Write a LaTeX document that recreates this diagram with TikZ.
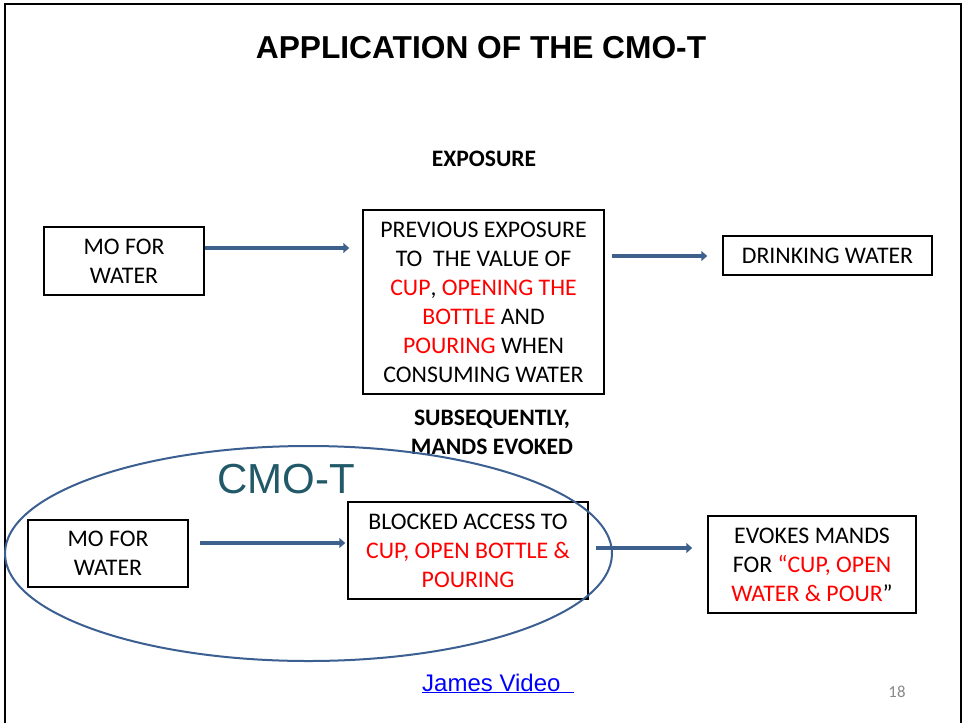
\documentclass[tikz,border=0pt]{standalone}
\usepackage{fontspec}
\setmainfont{Carlito}
\newfontfamily\arialfont{Liberation Sans}
\usetikzlibrary{arrows.meta,calc}
\definecolor{arrblue}{RGB}{62,96,140}
\definecolor{ellblue}{RGB}{60,95,145}
\definecolor{cmoteal}{RGB}{33,89,104}
\definecolor{numgray}{RGB}{137,137,137}
\newcommand{\rd}[1]{\textcolor{red}{#1}}
\begin{document}
\begin{tikzpicture}[x=1pt,y=-1pt,
  box/.style={draw=black, line width=1.5pt, inner sep=0pt, align=center, font=\fontsize{23.8}{29}\selectfont},
  lbl/.style={font=\bfseries\fontsize{23.6}{29}\selectfont, align=center},
  arr/.style={draw=arrblue, line width=3.5pt, -{Triangle[length=6pt,width=10pt]}},
]
\useasboundingbox (0,0) rectangle (963,723);
\fill[white] (0,0) rectangle (963,723);
\draw[line width=2.5pt] (5,723) -- (5,4) -- (961,4) -- (961,723);

\node[font=\arialfont\bfseries\fontsize{31.7}{36}\selectfont, anchor=base] (title) at (481,58) {APPLICATION OF THE CMO-T};

\node[lbl, anchor=base] (expo) at (484,166) {EXPOSURE};
\node[lbl] (subs) at (492,432.5) {SUBSEQUENTLY,\\MANDS EVOKED};

\node[box, minimum width=160, minimum height=68] (mo1) at (124,261) {MO FOR\\WATER};
\node[box, minimum width=241, minimum height=184] (prev) at (483.5,302) {PREVIOUS EXPOSURE\\TO\ \ THE VALUE OF\\\rd{CUP}, \rd{OPENING THE}\\\rd{BOTTLE} AND\\\rd{POURING} WHEN\\CONSUMING WATER};
\node[box, minimum width=209, minimum height=39] (drink) at (827.5,255.5) {DRINKING WATER};

\node[box, minimum width=160, minimum height=67] (mo2) at (108,553.5) {MO FOR\\WATER};
\node[box, minimum width=240, minimum height=97] (block) at (468,550.5) {BLOCKED ACCESS TO\\\rd{CUP, OPEN BOTTLE \&}\\\rd{POURING}};
\node[box, minimum width=208, minimum height=97] (evoke) at (812,564.5) {EVOKES MANDS\\FOR \rd{“CUP, OPEN}\\\rd{WATER \& POUR}”};

\draw[arr] ([yshift=13pt]mo1.east) -- ($(prev.west)+(-13pt,54pt)$);
\draw[arr] ($(prev.east)+(7pt,46pt)$) -- ($(drink.west)+(-15pt,-0.5pt)$);
\draw[arr] ($(mo2.east)+(11pt,10.5pt)$) -- ($(block.west)+(-2pt,7.5pt)$);
\draw[arr] ($(block.east)+(7pt,2.5pt)$) -- ($(evoke.west)+(-15pt,16.5pt)$);

\draw[ellblue, line width=2pt] (308.5,553.5) ellipse [x radius=303.5pt, y radius=107.5pt];
\node[font=\arialfont\fontsize{42}{50}\selectfont, text=cmoteal, anchor=base] (cmot) at (286,493) {CMO-T};

\node[font=\arialfont\fontsize{24}{28}\selectfont, text=blue, anchor=base west, inner sep=0pt] (james) at (422,691) {\underline{James Video\ \ }};
\node[font=\fontsize{16.8}{20}\selectfont, text=numgray, anchor=base, inner sep=0pt] (num) at (897,697) {18};
\end{tikzpicture}
\end{document}
